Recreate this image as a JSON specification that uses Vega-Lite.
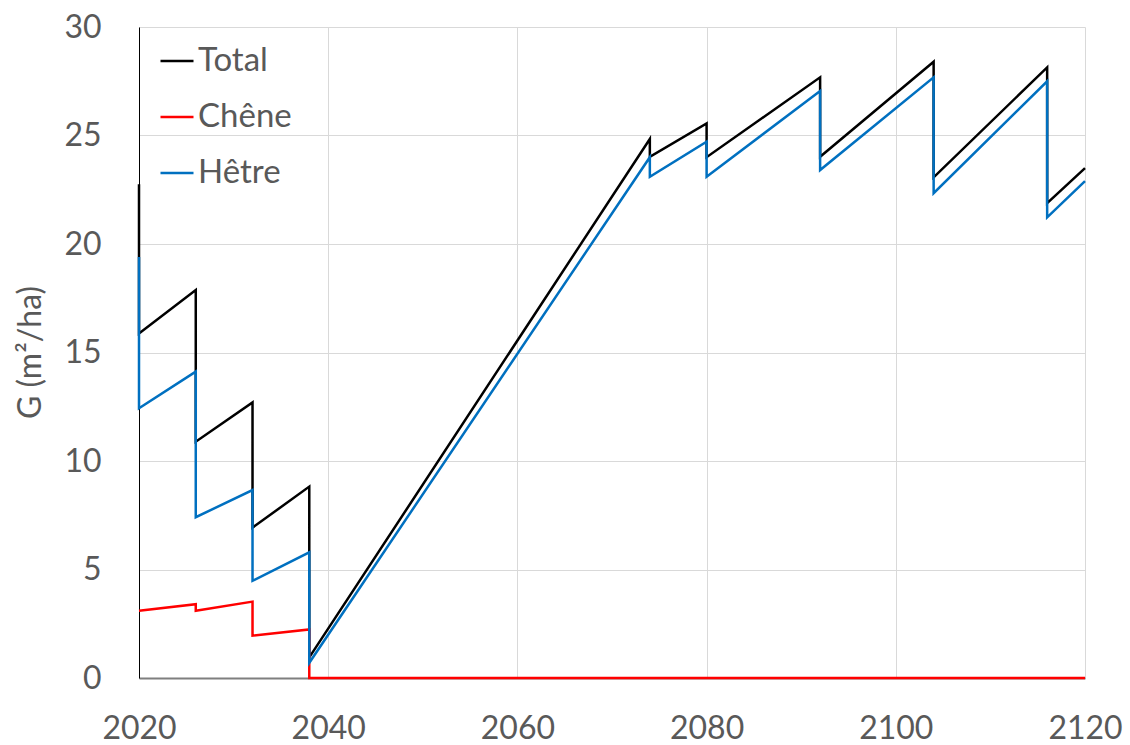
{
  "$schema": "https://vega.github.io/schema/vega-lite/v6.json",
  "width": 946,
  "height": 651,
  "autosize": {"type": "none"},
  "padding": {"left": 139, "top": 27, "right": 45, "bottom": 67},
  "background": "#ffffff",
  "config": {
    "view": {"stroke": null},
    "font": "Lato"
  },
  "data": {
    "values": [
      {"serie": "Total", "annee": 2020, "G": 22.75, "ordre": 1},
      {"serie": "Total", "annee": 2020, "G": 15.88, "ordre": 2},
      {"serie": "Total", "annee": 2026, "G": 17.88, "ordre": 3},
      {"serie": "Total", "annee": 2026, "G": 10.89, "ordre": 4},
      {"serie": "Total", "annee": 2032, "G": 12.70, "ordre": 5},
      {"serie": "Total", "annee": 2032, "G": 6.93, "ordre": 6},
      {"serie": "Total", "annee": 2038, "G": 8.82, "ordre": 7},
      {"serie": "Total", "annee": 2038, "G": 0.95, "ordre": 8},
      {"serie": "Total", "annee": 2074, "G": 24.84, "ordre": 9},
      {"serie": "Total", "annee": 2074, "G": 24.02, "ordre": 10},
      {"serie": "Total", "annee": 2080, "G": 25.56, "ordre": 11},
      {"serie": "Total", "annee": 2080, "G": 24.0, "ordre": 12},
      {"serie": "Total", "annee": 2092, "G": 27.68, "ordre": 13},
      {"serie": "Total", "annee": 2092, "G": 24.02, "ordre": 14},
      {"serie": "Total", "annee": 2104, "G": 28.4, "ordre": 15},
      {"serie": "Total", "annee": 2104, "G": 23.07, "ordre": 16},
      {"serie": "Total", "annee": 2116, "G": 28.14, "ordre": 17},
      {"serie": "Total", "annee": 2116, "G": 21.88, "ordre": 18},
      {"serie": "Total", "annee": 2120, "G": 23.5, "ordre": 19},

      {"serie": "Chêne", "annee": 2020, "G": 3.10, "ordre": 1},
      {"serie": "Chêne", "annee": 2026, "G": 3.40, "ordre": 2},
      {"serie": "Chêne", "annee": 2026, "G": 3.10, "ordre": 3},
      {"serie": "Chêne", "annee": 2032, "G": 3.52, "ordre": 4},
      {"serie": "Chêne", "annee": 2032, "G": 1.95, "ordre": 5},
      {"serie": "Chêne", "annee": 2038, "G": 2.24, "ordre": 6},
      {"serie": "Chêne", "annee": 2038, "G": 0, "ordre": 7},
      {"serie": "Chêne", "annee": 2120, "G": 0, "ordre": 8},

      {"serie": "Hêtre", "annee": 2020, "G": 19.4, "ordre": 1},
      {"serie": "Hêtre", "annee": 2020, "G": 12.43, "ordre": 2},
      {"serie": "Hêtre", "annee": 2026, "G": 14.12, "ordre": 3},
      {"serie": "Hêtre", "annee": 2026, "G": 7.41, "ordre": 4},
      {"serie": "Hêtre", "annee": 2032, "G": 8.66, "ordre": 5},
      {"serie": "Hêtre", "annee": 2032, "G": 4.48, "ordre": 6},
      {"serie": "Hêtre", "annee": 2038, "G": 5.79, "ordre": 7},
      {"serie": "Hêtre", "annee": 2038, "G": 0.7, "ordre": 8},
      {"serie": "Hêtre", "annee": 2074, "G": 24.0, "ordre": 9},
      {"serie": "Hêtre", "annee": 2074, "G": 23.1, "ordre": 10},
      {"serie": "Hêtre", "annee": 2080, "G": 24.71, "ordre": 11},
      {"serie": "Hêtre", "annee": 2080, "G": 23.1, "ordre": 12},
      {"serie": "Hêtre", "annee": 2092, "G": 27.05, "ordre": 13},
      {"serie": "Hêtre", "annee": 2092, "G": 23.41, "ordre": 14},
      {"serie": "Hêtre", "annee": 2104, "G": 27.68, "ordre": 15},
      {"serie": "Hêtre", "annee": 2104, "G": 22.34, "ordre": 16},
      {"serie": "Hêtre", "annee": 2116, "G": 27.5, "ordre": 17},
      {"serie": "Hêtre", "annee": 2116, "G": 21.23, "ordre": 18},
      {"serie": "Hêtre", "annee": 2120, "G": 22.9, "ordre": 19}
    ]
  },
  "mark": {"type": "line", "strokeWidth": 2.5, "strokeJoin": "miter", "clip": false},
  "encoding": {
    "x": {
      "field": "annee",
      "type": "quantitative",
      "scale": {"domain": [2020, 2120], "nice": false, "zero": false},
      "axis": {
        "title": null,
        "values": [2020, 2040, 2060, 2080, 2100, 2120],
        "format": "d",
        "grid": true,
        "gridColor": "#d9d9d9",
        "gridWidth": 1,
        "ticks": false,
        "domainColor": "#7f7f7f",
        "domainWidth": 2,
        "labelFont": "Lato",
        "labelFontSize": 32,
        "labelColor": "#595959",
        "labelBaseline": "alphabetic",
        "labelPadding": 60,
        "labelFlush": false
      }
    },
    "y": {
      "field": "G",
      "type": "quantitative",
      "scale": {"domain": [0, 30], "nice": false},
      "axis": {
        "title": "G (m²/ha)",
        "values": [0, 5, 10, 15, 20, 25, 30],
        "grid": true,
        "gridColor": "#d9d9d9",
        "gridWidth": 1,
        "ticks": false,
        "domainColor": "#000000",
        "domainWidth": 1,
        "labelFont": "Lato",
        "labelFontSize": 32,
        "labelColor": "#595959",
        "labelPadding": 38,
        "labelBaseline": "middle",
        "titleFont": "Lato",
        "titleFontSize": 32,
        "titleFontWeight": "normal",
        "titleColor": "#595959",
        "titleAngle": -90,
        "titleAlign": "center",
        "titleBaseline": "middle",
        "titleX": -109,
        "titleY": 325
      }
    },
    "color": {
      "field": "serie",
      "type": "nominal",
      "scale": {
        "domain": ["Total", "Chêne", "Hêtre"],
        "range": ["#000000", "#ff0000", "#0070c0"]
      },
      "legend": {
        "title": null,
        "orient": "none",
        "legendX": 20,
        "legendY": 16,
        "symbolType": "stroke",
        "symbolSize": 1089,
        "symbolStrokeWidth": 2.5,
        "labelFont": "Lato",
        "labelFontSize": 33,
        "labelColor": "#595959",
        "labelOffset": 3,
        "rowPadding": 21,
        "padding": 0
      }
    },
    "order": {"field": "ordre", "type": "quantitative"}
  }
}
